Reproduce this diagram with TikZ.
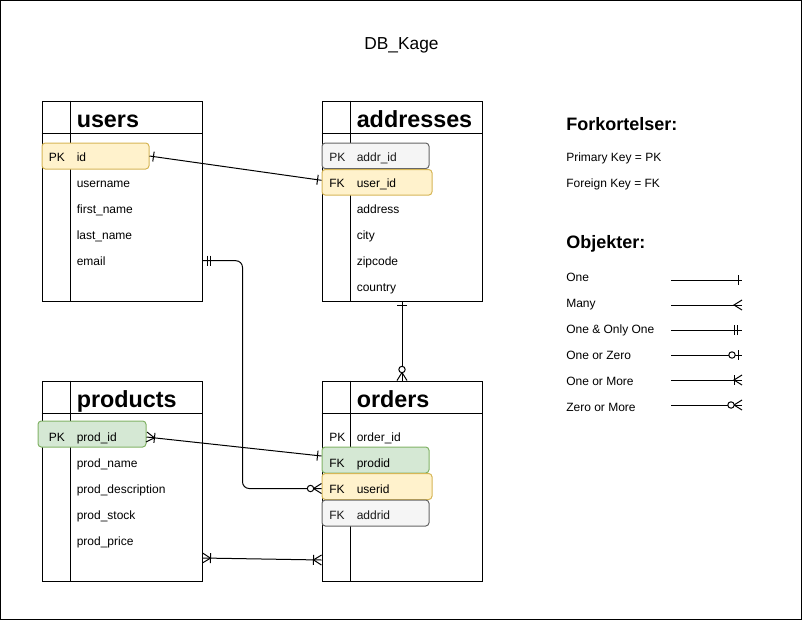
\documentclass[tikz,border=0pt]{standalone}
\usepackage{fontspec}
\setmainfont{Liberation Sans}
\usetikzlibrary{calc,decorations.markings}
\definecolor{yfill}{HTML}{FFF2CC}
\definecolor{ydraw}{HTML}{D6B656}
\definecolor{gfill}{HTML}{D5E8D4}
\definecolor{gdraw}{HTML}{82B366}
\definecolor{sfill}{HTML}{F5F5F5}
\definecolor{sdraw}{HTML}{666666}
\definecolor{stext}{HTML}{1A1A1A}

\newcommand\mkOne{\draw[mkline] (-4,-5) -- (-4,5);}
\newcommand\mkMandOne{\draw[mkline] (-5,-5) -- (-5,5) (-8,-5) -- (-8,5);}
\newcommand\mkMany{\draw[mkline] (0,5) -- (-8,0) -- (0,-5);}
\newcommand\mkOneMany{\mkMany\draw[mkline] (-8,-5) -- (-8,5);}
\newcommand\mkZeroMany{\mkMany\draw[mkline,fill=white] (-11,0) circle[radius=2.4pt];}
\newcommand\mkZeroOne{\mkOne\draw[mkline,fill=white] (-10,0) circle[radius=2.4pt];}

\tikzset{
  mkline/.style={line width=0.75pt, draw=black, sharp corners},
  endmk/.style={postaction={decorate,decoration={markings,mark=at position 1 with {#1}}}},
  startmk/.style={postaction={decorate,decoration={markings,mark=at position 0 with {\begin{scope}[xscale=-1]#1\end{scope}}}}},
  conn/.style={line width=0.75pt, draw=black},
  tbl/.style={draw=black, line width=0.75pt, minimum width=120pt, minimum height=150pt, inner sep=0pt, anchor=north west},
  keybox/.style={rounded corners=2.5pt, line width=0.75pt, inner sep=0pt, anchor=north west},
  ybox/.style={keybox, fill=yfill, draw=ydraw},
  gbox/.style={keybox, fill=gfill, draw=gdraw},
  sbox/.style={keybox, fill=sfill, draw=sdraw},
  txt/.style={anchor=base west, inner sep=0pt, font=\fontsize{9}{10}\selectfont},
  ltxt/.style={anchor=base west, inner sep=0pt, font=\fontsize{9}{10}\selectfont},
  ttl/.style={anchor=base west, inner sep=0pt, font=\bfseries\fontsize{17.5}{20}\selectfont},
  head/.style={anchor=base west, inner sep=0pt, font=\bfseries\fontsize{13.5}{15}\selectfont},
}

\begin{document}
\begin{tikzpicture}[x=0.75pt,y=-0.75pt]
\useasboundingbox (0,0) rectangle (803,622);
\draw[line width=0.9pt] (0.5,0.5) rectangle (801.5,619.5);

\node[anchor=base, inner sep=0pt, font=\fontsize{13}{15}\selectfont] (title) at (401.5,49) {DB\_Kage};

% tables
\foreach \n/\x/\y in {users/41.5/100.5, addresses/321.5/100.5, products/41.5/380.5, orders/321.5/380.5}{
  \node[tbl] (\n) at (\x,\y) {};
  \draw[line width=0.75pt] ($(\n.north west)+(0,33)$) -- ($(\n.north east)+(0,33)$);
  \draw[line width=0.75pt] ($(\n.north west)+(29,0)$) -- ($(\n.south west)+(29,0)$);
}

% key boxes
\node[ybox, minimum width=80.25pt, minimum height=19.5pt] (pkuser) at (41.5,142.5) {};
\node[sbox, minimum width=80.25pt, minimum height=19.2pt] (pkaddr) at (321.5,142.5) {};
\node[ybox, minimum width=82.5pt, minimum height=19.2pt] (fkaddruser) at (321.5,169) {};
\node[gbox, minimum width=81pt, minimum height=19.5pt] (pkprod) at (37.5,420.5) {};
\node[gbox, minimum width=80.25pt, minimum height=19.5pt] (fkoprod) at (321.5,446.5) {};
\node[ybox, minimum width=82.5pt, minimum height=19.5pt] (fkouser) at (321.5,473) {};
\node[sbox, minimum width=80.25pt, minimum height=19.5pt] (fkoaddr) at (321.5,499.5) {};

% titles
\node[ttl] (users-t) at (76.5,127.5) {users};
\node[ttl] (addresses-t) at (356.5,127.5) {addresses};
\node[ttl] (products-t) at (76.5,407.5) {products};
\node[ttl] (orders-t) at (356.5,407.5) {orders};

% users rows
\node[txt] (upk) at (48.5,161) {PK};
\node[txt] (uid) at (76.5,161) {id};
\node[txt] (uuser) at (76.5,187) {username};
\node[txt] (ufirst) at (76.5,213) {first\_name};
\node[txt] (ulast) at (76.5,239) {last\_name};
\node[txt] (uemail) at (76.5,265) {email};

% addresses rows
\node[txt, text=stext] (apk) at (329,161) {PK};
\node[txt, text=stext] (aid) at (356.5,161) {addr\_id};
\node[txt] (afk) at (329,187) {FK};
\node[txt] (auid) at (356.5,187) {user\_id};
\node[txt] (aaddr) at (356.5,213) {address};
\node[txt] (acity) at (356.5,239) {city};
\node[txt] (azip) at (356.5,265) {zipcode};
\node[txt] (acountry) at (356.5,291) {country};

% products rows
\node[txt] (ppk) at (48.5,441) {PK};
\node[txt] (pid) at (76.5,441) {prod\_id};
\node[txt] (pname) at (76.5,467) {prod\_name};
\node[txt] (pdesc) at (76.5,493) {prod\_description};
\node[txt] (pstock) at (76.5,519) {prod\_stock};
\node[txt] (pprice) at (76.5,545) {prod\_price};

% orders rows
\node[txt] (opk) at (329,441) {PK};
\node[txt] (oid) at (356.5,441) {order\_id};
\node[txt] (ofk1) at (329,467) {FK};
\node[txt] (oprod) at (356.5,467) {prodid};
\node[txt] (ofk2) at (329,493) {FK};
\node[txt] (ouser) at (356.5,493) {userid};
\node[txt, text=stext] (ofk3) at (329,519) {FK};
\node[txt, text=stext] (oaddr) at (356.5,519) {addrid};

% connectors
\draw[conn, startmk=\mkOne, endmk=\mkOne] (pkuser.east) -- ($(fkaddruser.west)+(0,-2)$);
\draw[conn, rounded corners=5pt, startmk=\mkMandOne, endmk=\mkZeroMany]
  (users.east |- uemail.west) -- ++(40,0) |- ($(fkouser.west)+(0,2)$);
\draw[conn, startmk=\mkOne, endmk=\mkZeroMany] (addresses.south) -- (orders.north);
\draw[conn, startmk=\mkOneMany, endmk=\mkOne] ($(pkprod.east)+(0,3)$) -- ($(fkoprod.west)+(0,-4)$);
\draw[conn, startmk=\mkOneMany, endmk=\mkOneMany] ($(products.south east)+(0,-23.5)$) -- ($(orders.south west)+(0,-21.5)$);

% legend
\node[head] (fork) at (566,130) {Forkortelser:};
\node[ltxt] (pkdef) at (566,161.5) {Primary Key = PK};
\node[ltxt] (fkdef) at (566,187.5) {Foreign Key = FK};
\node[head] (obj) at (566,248.5) {Objekter:};
\node[ltxt] (lg1) at (566,281) {One};
\node[ltxt] (lg2) at (566,307) {Many};
\node[ltxt] (lg3) at (566,333) {One \& Only One};
\node[ltxt] (lg4) at (566,359) {One or Zero};
\node[ltxt] (lg5) at (566,385) {One or More};
\node[ltxt] (lg6) at (566,411) {Zero or More};

\foreach \i/\yy in {1/280,2/305,3/330,4/355,5/380,6/405}{
  \coordinate (ls\i) at (671,\yy);
  \coordinate (le\i) at (742,\yy);
}
\draw[conn, endmk=\mkOne] (ls1) -- (le1);
\draw[conn, endmk=\mkMany] (ls2) -- (le2);
\draw[conn, endmk=\mkMandOne] (ls3) -- (le3);
\draw[conn, endmk=\mkZeroOne] (ls4) -- (le4);
\draw[conn, endmk=\mkOneMany] (ls5) -- (le5);
\draw[conn, endmk=\mkZeroMany] (ls6) -- (le6);
\end{tikzpicture}
\end{document}
